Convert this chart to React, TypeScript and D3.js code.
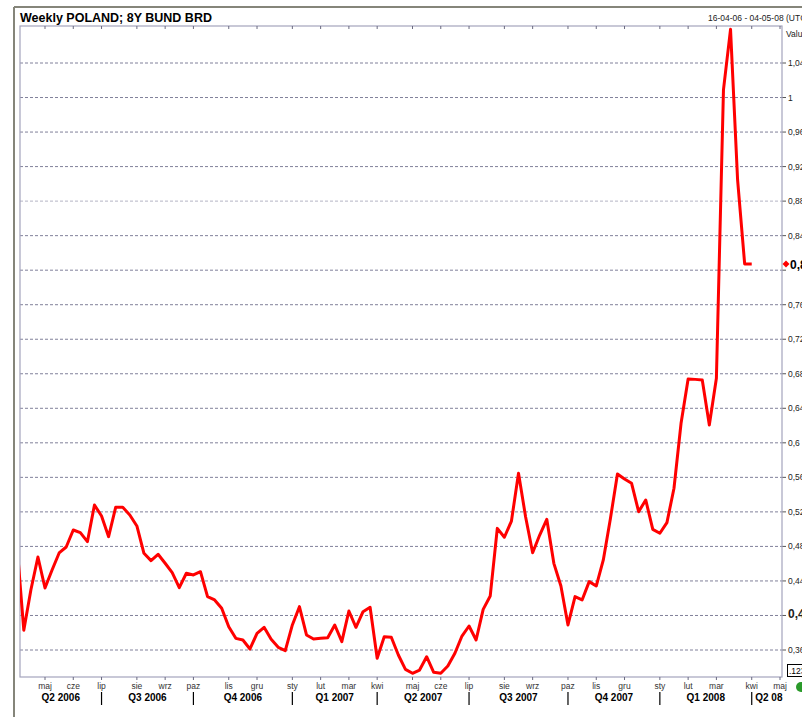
import React from "react";
import * as d3 from "d3";

// ---- data ----
const startDate = Date.UTC(2006, 3, 9); // first weekly point (Sunday), partly outside plot
const rangeStart = Date.UTC(2006, 3, 16);
const rangeEnd = Date.UTC(2008, 4, 4);
const values = [
  0.485,
  0.383, 0.4295, 0.4677, 0.4318, 0.4527, 0.4724, 0.4793, 0.499, 0.4959, 0.4855,
  0.528, 0.5152, 0.4913, 0.5253, 0.5253, 0.5164, 0.5037, 0.472, 0.4635, 0.4709,
  0.4605, 0.4496, 0.4322, 0.4489, 0.4469, 0.4507, 0.4218, 0.418, 0.4083, 0.387,
  0.3735, 0.3716, 0.3612, 0.3793, 0.3863, 0.3724, 0.3631, 0.3592, 0.389, 0.4102,
  0.3774, 0.3727, 0.3735, 0.3743, 0.389, 0.3697, 0.4052, 0.3863, 0.4044, 0.4095,
  0.3504, 0.3754, 0.3747, 0.3542, 0.3376, 0.333, 0.3368, 0.3522, 0.3342, 0.333,
  0.3415, 0.3562, 0.3762, 0.3878, 0.3716, 0.4071, 0.4226, 0.5009, 0.4906, 0.5094,
  0.5647, 0.5144, 0.4727, 0.4932, 0.5114, 0.4604, 0.4341, 0.389, 0.4218, 0.418,
  0.4392, 0.4341, 0.4643, 0.512, 0.5639, 0.558, 0.5531, 0.5202, 0.5338, 0.4998,
  0.4952, 0.5076, 0.5474, 0.6227, 0.674, 0.6735, 0.6728, 0.6207, 0.6748, 1.0088,
  1.079, 0.9045, 0.8072, 0.8072,
];
const yTicks = [0.36, 0.4, 0.44, 0.48, 0.52, 0.56, 0.6, 0.64, 0.68, 0.72, 0.76, 0.8, 0.84, 0.88, 0.92, 0.96, 1, 1.04];
const monthNames = ["sty", "lut", "mar", "kwi", "maj", "cze", "lip", "sie", "wrz", "paz", "lis", "gru"];
const quarterLabels = ["Q2 2006", "Q3 2006", "Q4 2006", "Q1 2007", "Q2 2007", "Q3 2007", "Q4 2007", "Q1 2008", "Q2 08"];
const title = "Weekly POLAND; 8Y BUND BRD";
const rangeText = "16-04-06 - 04-05-08 (UTC)";
const lastValueLabel = "0,807";

const WEEK = 7 * 24 * 3600 * 1000;
const data = values.map((v, i) => ({ date: new Date(startDate + i * WEEK), value: v }));

// ---- layout ----
const W = 802, H = 717;
const L = 20, R = 782, T = 26, B = 677;
const FONT = "'Liberation Sans', Arial, sans-serif";

const x = d3.scaleUtc().domain([new Date(rangeStart), new Date(rangeEnd)]).range([23.8, 780]);
const y = d3.scaleLinear().domain([0.36, 1.04]).range([650, 63]);

// first weekly point of each month (month ticks)
const weekDates: Date[] = [];
for (let t = rangeStart; t <= rangeEnd; t += WEEK) weekDates.push(new Date(t));
const monthTicks = weekDates.filter((d, i) => i > 0 && d.getUTCMonth() !== weekDates[i - 1].getUTCMonth());
const quarterTicks = monthTicks.filter((d) => d.getUTCMonth() % 3 === 0);

const fmt = (v: number) => String(+v.toFixed(2)).replace(".", ",");

export default function App() {
  const line = d3.line<{ date: Date; value: number }>().x((d) => x(d.date)).y((d) => y(d.value));
  const qBounds = [L, ...quarterTicks.map((d) => x(d)), R];
  const last = data[data.length - 1];
  return (
    <svg width={W} height={H} style={{ position: "fixed", left: 0, top: 0, background: "#fff" }} fontFamily={FONT}>
      <defs>
        <clipPath id="plot">
          <rect x={L} y={T} width={R - L} height={B - T} />
        </clipPath>
      </defs>
      <rect x={0} y={0} width={W} height={H} fill="#fff" />
      {/* outer frame */}
      <line x1={14} x2={W} y1={7} y2={7} stroke="#85857a" strokeWidth={2} />
      <line x1={14} x2={14} y1={7} y2={H} stroke="#85857a" strokeWidth={2} />
      {/* title */}
      <text x={20} y={22} fontSize={12.5} fontWeight="bold" fill="#000">{title}</text>
      <text x={708} y={21} fontSize={8.5} fill="#222">{rangeText}</text>
      <text x={786} y={37} fontSize={8.5} fill="#222">Valu</text>
      {/* gridlines */}
      {yTicks.map((t) => (
        <g key={t}>
          <line x1={L} x2={R} y1={y(t)} y2={y(t)} stroke={t === 0.88 ? "#b4b4c4" : "#80809a"} strokeWidth={1} strokeDasharray="3,2" />
          <line x1={R} x2={R + 4} y1={y(t)} y2={y(t)} stroke="#555" strokeWidth={1} />
          {t !== 0.8 && (
            <text x={788} y={y(t) + 3} fontSize={t === 0.4 ? 12 : 8.5} fontWeight={t === 0.4 ? "bold" : "normal"} fill="#222">{fmt(t)}</text>
          )}
        </g>
      ))}
      {/* plot border */}
      <rect x={L} y={T} width={R - L} height={B - T} fill="none" stroke="#a4a4bc" strokeWidth={1.2} />
      {/* month ticks */}
      {monthTicks.map((d, i) => (
        <g key={i}>
          <line x1={x(d)} x2={x(d)} y1={B} y2={B + 3} stroke="#6a6a80" />
          <line x1={x(d)} x2={x(d)} y1={T} y2={T + 3} stroke="#6a6a80" />
          <text x={x(d)} y={689} fontSize={8.5} textAnchor="middle" fill="#333">{monthNames[d.getUTCMonth()]}</text>
        </g>
      ))}
      {/* quarter separators and labels */}
      {quarterTicks.map((d, i) => (
        <line key={i} x1={x(d)} x2={x(d)} y1={692} y2={705} stroke="#000" strokeWidth={1.2} />
      ))}
      {quarterLabels.map((q, i) => (
        <text key={q} x={(qBounds[i] + qBounds[i + 1]) / 2 + (i === quarterLabels.length - 1 ? 2 : 0)} y={701} fontSize={10} fontWeight="bold" textAnchor="middle" fill="#000">{q}</text>
      ))}
      {/* series */}
      <path d={line(data) || ""} fill="none" stroke="#ff0000" strokeWidth={3} strokeLinejoin="round" clipPath="url(#plot)" />
      {/* last value marker */}
      <path d={`M${786},${y(last.value) - 3.5}l3.5,3.5l-3.5,3.5l-3.5,-3.5z`} fill="#ff0000" />
      <text x={790} y={y(last.value) + 5} fontSize={12} fontWeight="bold" fill="#000">{lastValueLabel}</text>
      {/* bottom right widgets */}
      <rect x={787.5} y={664.5} width={22} height={12} fill="#fff" stroke="#000" strokeWidth={1} />
      <text x={789} y={674} fontSize={8.5} fill="#000">.123</text>
      <circle cx={801} cy={687} r={5} fill="#2a9a2a" />
    </svg>
  );
}
